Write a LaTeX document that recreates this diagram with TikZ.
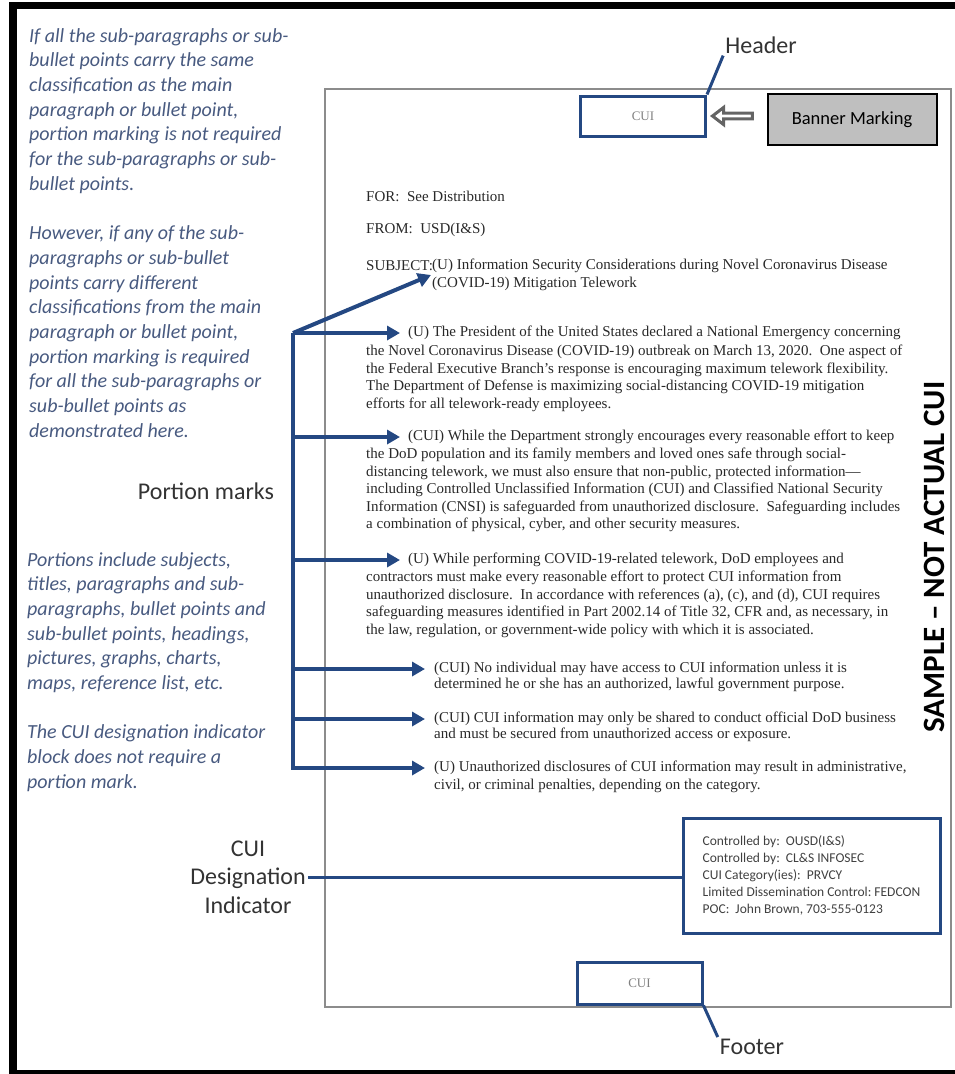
\documentclass[tikz,border=0pt]{standalone}
\usepackage{fontspec}
\setmainfont{Liberation Serif}
\newfontfamily\calibri{Carlito}
\usetikzlibrary{
    arrows.meta,
    positioning,
    calc,
    shapes.arrows,
}

\definecolor{cuiblue}{RGB}{36,72,130}
\definecolor{notecol}{RGB}{72,90,128}
\definecolor{bannergray}{RGB}{191,191,191}
\definecolor{inkgray}{RGB}{40,40,40}
\definecolor{sheetgray}{RGB}{140,140,140}
\definecolor{arrowgray}{RGB}{100,100,100}

\begin{document}
\begin{tikzpicture}[
    x=1pt, y=-1pt,
    frameline/.style={draw=black, line width=7.5pt},
    sheet/.style={draw=sheetgray, line width=1.8pt},
    note/.style={font=\calibri\itshape\fontsize{20}{24.7}\selectfont, text=notecol,
                align=left, inner sep=0pt, anchor=north west},
    tag/.style={font=\calibri\fontsize{24}{28.5}\selectfont, text=black!80,
                align=center, inner sep=2pt},
    doc/.style={font=\fontsize{15}{17.5}\selectfont, text=inkgray, align=left,
                inner sep=0pt, anchor=north west},
    lead/.style={doc, anchor=west, inner xsep=8pt},
    cuibox/.style={draw=cuiblue, line width=3pt, minimum width=125pt, minimum height=40pt,
                font=\fontsize{13}{15}\selectfont, text=black!50},
    cuiblock/.style={draw=cuiblue, line width=3pt, minimum width=257pt, minimum height=115pt,
                align=left, font=\calibri\fontsize{13.5}{17}\selectfont, text=black!75},
    banner/.style={draw=black, line width=2pt, fill=bannergray, minimum width=169pt,
                minimum height=51pt, font=\calibri\fontsize{18.5}{22}\selectfont},
    bannerarrow/.style={single arrow, shape border rotate=180, draw=arrowgray, fill=white,
                line width=3pt, minimum height=40pt, minimum width=17pt, inner sep=0pt,
                single arrow head extend=3pt, single arrow tip angle=75},
    portarrow/.style={draw=cuiblue, line width=4pt, -{Triangle[length=13pt, width=14pt]}},
    leader/.style={draw=cuiblue, line width=3pt},
]
\useasboundingbox (0,0) rectangle (955,1074);

% frame (open on the right, cut by the picture edge) and memo sheet
\draw[frameline] (955,5.5) -- (13,5.5) -- (13,1074) -- (955,1074);
\draw[sheet] (325,89) rectangle (951,1007);

% notes on the left
\node[note] (ruleNote) at (29,28) {If all the sub-paragraphs or sub-\\bullet points carry the same\\classification as the main\\paragraph or bullet point,\\portion marking is not required\\for the sub-paragraphs or sub-\\bullet points.\\[24.7pt]However, if any of the sub-\\paragraphs or sub-bullet\\points carry different\\classifications from the main\\paragraph or bullet point,\\portion marking is required\\for all the sub-paragraphs or\\sub-bullet points as\\demonstrated here.};
\node[note] (portionNote) at (27,552) {Portions include subjects,\\titles, paragraphs and sub-\\paragraphs, bullet points and\\sub-bullet points, headings,\\pictures, graphs, charts,\\maps, reference list, etc.\\[24.7pt]The CUI designation indicator\\block does not require a\\portion mark.};

\node[tag] (portionLbl) at (206,491) {Portion marks};
\node[tag] (cuiLbl) at (248,877) {CUI\\Designation\\Indicator};
\node[tag] (headerLbl) at (761,45) {Header};
\node[tag] (footerLbl) at (752,1047) {Footer};

% banner and footer markings
\node[cuibox] (hdrBox) at (643,116) {CUI};
\node[cuibox, minimum height=42pt] (ftrBox) at (639.5,983) {CUI};
\node[bannerarrow] (bannerArrow) [right=3pt of hdrBox] {};
\node[banner] (bannerBox) at (852,119.5) {Banner Marking};

\draw[leader] (headerLbl.south west) -- (hdrBox.north east);
\draw[leader] (ftrBox.south east) -- (footerLbl.north west);

% memo text
\node[doc, anchor=west] (forLine) at (366,196) {FOR:\ \ See Distribution};
\node[doc, anchor=west] (fromLine) at (366,230) {FROM:\ \ USD(I\&S)};
\node[doc, anchor=west] (subjLbl) at (366,266) {SUBJECT:};
\node[doc, anchor=west, inner xsep=1pt] (subj) at (431,275) {(U) Information Security Considerations during Novel Coronavirus Disease\\(COVID-19) Mitigation Telework};

\node[lead] (paraA) at (400,333) {(U) The President of the United States declared a National Emergency concerning};
\node[doc] (paraAb) at (366,345) {the Novel Coronavirus Disease (COVID-19) outbreak on March 13, 2020.\ \ One aspect of\\the Federal Executive Branch’s response is encouraging maximum telework flexibility.\\The Department of Defense is maximizing social-distancing COVID-19 mitigation\\efforts for all telework-ready employees.};

\node[lead] (paraB) at (400,437) {(CUI) While the Department strongly encourages every reasonable effort to keep};
\node[doc] (paraBb) at (366,448) {the DoD population and its family members and loved ones safe through social-\\distancing telework, we must also ensure that non-public, protected information—\\including Controlled Unclassified Information (CUI) and Classified National Security\\Information (CNSI) is safeguarded from unauthorized disclosure.\ \ Safeguarding includes\\a combination of physical, cyber, and other security measures.};

\node[lead] (paraC) at (400,560) {(U) While performing COVID-19-related telework, DoD employees and};
\node[doc] (paraCb) at (366,571) {contractors must make every reasonable effort to protect CUI information from\\unauthorized disclosure.\ \ In accordance with references (a), (c), and (d), CUI requires\\safeguarding measures identified in Part 2002.14 of Title 32, CFR and, as necessary, in\\the law, regulation, or government-wide policy with which it is associated.};

\node[lead, inner xsep=9pt] (subD) at (425,669) {(CUI) No individual may have access to CUI information unless it is};
\node[doc] (subDb) at (434,678) {determined he or she has an authorized, lawful government purpose.};
\node[lead, inner xsep=9pt] (subE) at (425,719) {(CUI) CUI information may only be shared to conduct official DoD business};
\node[doc] (subEb) at (434,728) {and must be secured from unauthorized access or exposure.};
\node[lead, inner xsep=9pt] (subF) at (425,768) {(U) Unauthorized disclosures of CUI information may result in administrative,};
\node[doc] (subFb) at (434,779) {civil, or criminal penalties, depending on the category.};

% portion mark arrows
\coordinate (trunk) at (293,0);
\draw[portarrow] (paraA.west -| trunk) -- (subj.west);
\foreach \p in {paraA,paraB,paraC,subD,subE}
    \draw[portarrow] (\p.west -| trunk) -- (\p.west);
\draw[portarrow] (paraA.west -| trunk) |- (subF.west);

% designation indicator block
\node[cuiblock] (cuiBlock) at (811.5,875.5) {Controlled by:\ \ OUSD(I\&S)\\Controlled by:\ \ CL\&S INFOSEC\\CUI Category(ies):\ \ PRVCY\\Limited Dissemination Control:\ FEDCON\\POC:\ \ John Brown, 703-555-0123};
\draw[leader] (cuiLbl.east) -- (cuiLbl.east -| cuiBlock.west);

\node[font=\calibri\bfseries\fontsize{31}{36}\selectfont, rotate=90] (sampleMark) at (934,557) {SAMPLE – NOT ACTUAL CUI};

\end{tikzpicture}
\end{document}
